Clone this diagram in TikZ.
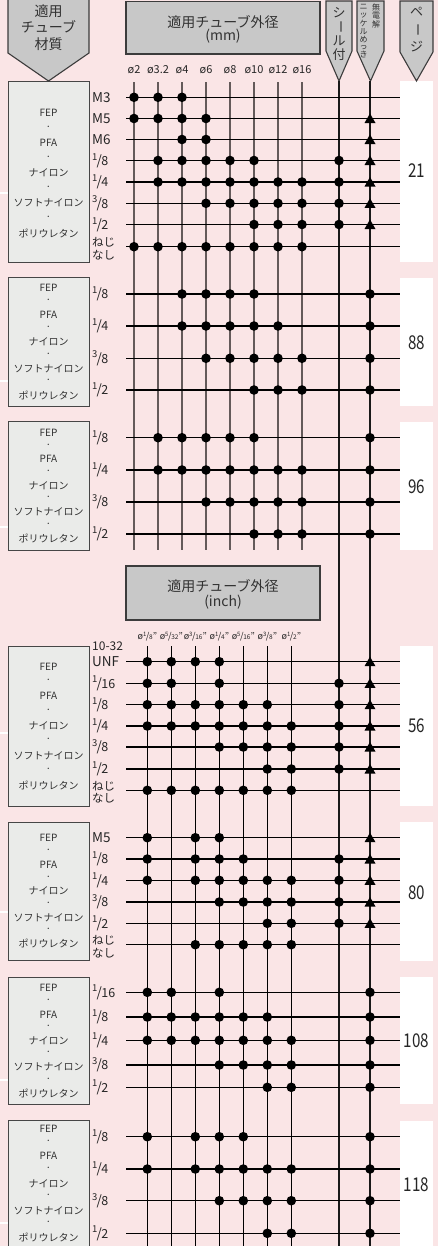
\documentclass[tikz,border=0pt]{standalone}
\usepackage{fontspec}
\usepackage{graphicx}
\setmainfont{Noto Sans CJK JP}
\definecolor{bgpink}{RGB}{250,229,230}
\definecolor{hdrfill}{RGB}{200,200,200}
\definecolor{hdrline}{RGB}{60,60,60}
\definecolor{matfill}{RGB}{234,235,233}
\definecolor{matline}{RGB}{70,70,70}
\definecolor{vgray}{RGB}{100,90,90}
\definecolor{txtgray}{RGB}{50,50,50}
\newcommand\fsz[1]{\fontsize{#1bp}{#1bp}\selectfont}
\newcommand\fr[2]{\raisebox{0.38em}{\fsz{9.5}#1}\kern-0.06em/\kern-0.04em{\fsz{12.5}#2}}
\newcommand\ifr[2]{ø\raisebox{0.35em}{\fsz{6}#1}\kern-0.05em/\kern-0.03em{\fsz{6.5}#2}"}
\tikzset{
  hl/.style={line width=1.4bp, black},
  mmv/.style={line width=1.3bp, draw=vgray},
  inv/.style={line width=1bp, black},
  hdr/.style={draw=hdrline, fill=hdrfill, line width=1.1bp},
  matb/.style={draw=matline, fill=matfill, line width=1bp},
  mtxt/.style={font=\fsz{10}, inner sep=0pt, text=txtgray},
  htxt/.style={font=\fsz{14}, inner sep=0pt, text=txtgray},
  vtxt/.style={font=\fsz{13}, inner sep=0pt, text=txtgray},
  ntxt/.style={font=\fsz{8}, inner sep=0pt, text=txtgray},
  lbl/.style={font=\fsz{13.5}, anchor=west, inner sep=0pt, text=black!85},
  dlbl/.style={font=\fsz{11}, inner sep=0pt, text=black!85},
  ilbl/.style={font=\fsz{9}, inner sep=0pt, text=black!85},
  pg/.style={font=\fsz{19}, inner sep=0pt, text=black!85},
}
% y, label, cols, seal, nickel(0 none,1 triangle,2 dot)
\newcommand\mmrow[5]{%
  \draw[hl] (126,#1) -- (400,#1);
  \foreach \c in {#3} {\fill ({134+24*(\c-1)},#1) circle (4.8bp);}
  \ifnum#4=1 \fill (339,#1) circle (4.8bp);\fi
  \ifcase#5 \or \fill (370,{#1-5}) -- (364.5,{#1+4.5}) -- (375.5,{#1+4.5}) -- cycle;\or \fill (370,#1) circle (4.8bp);\fi
  \node[lbl] at (92,#1) {#2};
}
\newcommand\inrow[5]{%
  \draw[hl] (126,#1) -- (400,#1);
  \foreach \c in {#3} {\fill ({147.3+24*(\c-1)},#1) circle (4.8bp);}
  \ifnum#4=1 \fill (339,#1) circle (4.8bp);\fi
  \ifcase#5 \or \fill (370,{#1-5}) -- (364.5,{#1+4.5}) -- (375.5,{#1+4.5}) -- cycle;\or \fill (370,#1) circle (4.8bp);\fi
  \node[lbl] at (92,#1) {#2};
}
% top, bottom, first text y, pitch
\newcommand\matbox[4]{%
  \filldraw[matb] (8,#1) rectangle (89,#2);
  \foreach \t [count=\k from 0] in {FEP,·,PFA,·,ナイロン,·,ソフトナイロン,·,ポリウレタン}
    {\node[mtxt] at (48.5,{#3+\k*#4/2}) {\t};}
}
\newcommand\nejinashi[1]{\node[lbl,font=\fsz{11.5},align=left] at (92,{#1+2}) {ねじ\\[1bp]なし};}
\begin{document}
\begin{tikzpicture}[x=1bp,y=-1bp]
\useasboundingbox (0,0) rectangle (438,1246);
\fill[bgpink] (0,0) rectangle (438,1246);
% left white strips
\foreach \yy in {193,381,527,733,912,1080,1223} {\fill[white] (0,{\yy-1}) rectangle (8,{\yy+1});}
% page white boxes
\foreach \a/\b in {81/262,277.7/406,421.7/550,646/806,822.3/960.7,977.3/1104,1120.7/1250}
  {\fill[white] (400,\a) rectangle (433,\b);}
% material boxes
\matbox{81}{262}{113}{30}
\matbox{277.7}{406}{288}{26.8}
\matbox{421.7}{550}{432.7}{26.4}
\matbox{646.5}{806}{666.7}{29.6}
\matbox{822.3}{960.7}{838.3}{26.4}
\matbox{977}{1104}{988.3}{26.2}
\matbox{1120.7}{1252}{1129.3}{27}
% headers
\filldraw[hdr] (8,-3) -- (89,-3) -- (89,53) -- (48.5,81) -- (8,53) -- cycle;
\node[htxt] (h1) at (48.5,11) {適用};
\node[htxt] (h2) at (48.5,26.5) {チューブ};
\node[htxt] (h3) at (48.5,44) {材質};
\filldraw[hdr] (126,1.5) rectangle (320,54);
\node[htxt] (mm1) at (223,21.7) {適用チューブ外径};
\node[htxt] (mm2) at (223,36) {(mm)};
\filldraw[hdr] (126,566) rectangle (320,620);
\node[htxt] (in1) at (223,585.7) {適用チューブ外径};
\node[htxt] (in2) at (223,602) {(inch)};
% seal header
\filldraw[hdr] (326,1) -- (352,1) -- (352,51) -- (339,81) -- (326,51) -- cycle;
\node[vtxt] at (339,12.5) {シ};
\node[vtxt] at (339,26.5) {\rotatebox[origin=c]{-90}{ー}};
\node[vtxt] at (339,40.5) {ル};
\node[vtxt] at (339,54.5) {付};
% nickel header
\filldraw[hdr] (357,1) -- (384,1) -- (384,51) -- (370.5,81) -- (357,51) -- cycle;
\foreach \ch/\yy in {無/7.5,電/16,解/24.5} {\node[ntxt] at (376,\yy) {\ch};}
\foreach \ch/\yy in {ニ/7,ッ/15,ケ/23.3,ル/31.6,め/40,っ/47.3,き/54.5} {\node[ntxt] at (363.5,\yy) {\ch};}
% page header
\filldraw[hdr] (400,1) -- (433,1) -- (433,52) -- (416.5,81) -- (400,52) -- cycle;
\node[vtxt] at (416.5,12) {ペ};
\node[vtxt] at (416.5,29.5) {\rotatebox[origin=c]{-90}{ー}};
\node[vtxt] at (416.5,46.5) {ジ};
% diameter labels mm
\foreach \t [count=\i] in {ø2,ø3.2,ø4,ø6,ø8,ø10,ø12,ø16}
  {\node[dlbl] at ({134+24*(\i-1)},70) {\t};}
% diameter labels inch
\node[ilbl] at (147.3,637) {\ifr{1}{8}};
\node[ilbl] at (171.3,637) {\ifr{5}{32}};
\node[ilbl] at (195.3,637) {\ifr{3}{16}};
\node[ilbl] at (219.3,637) {\ifr{1}{4}};
\node[ilbl] at (243.3,637) {\ifr{5}{16}};
\node[ilbl] at (267.3,637) {\ifr{3}{8}};
\node[ilbl] at (291.3,637) {\ifr{1}{2}};
% vertical lines
\foreach \i in {0,...,7} {\draw[mmv] ({134+24*\i},82) -- ({134+24*\i},550);}
\foreach \i in {0,...,6} {\draw[inv] ({147.3+24*\i},646) -- ({147.3+24*\i},1250);}
\draw[line width=1.2bp, black!90] (339,81) -- (339,1250);
\draw[line width=1.2bp, black!90] (370,81) -- (370,1250);
% block 1
\mmrow{97.3}{M3}{1,2,3}{0}{0}
\mmrow{118.5}{M5}{1,2,3,4}{0}{1}
\mmrow{139.5}{M6}{3,4}{0}{1}
\mmrow{160.5}{\fr18}{2,3,4,5,6}{1}{1}
\mmrow{182}{\fr14}{2,...,8}{1}{1}
\mmrow{203.3}{\fr38}{4,...,8}{1}{1}
\mmrow{224.5}{\fr12}{6,7,8}{1}{1}
\mmrow{246.7}{}{1,...,8}{0}{0}
\nejinashi{246.7}
% block 2
\mmrow{294}{\fr18}{3,4,5,6}{0}{2}
\mmrow{326}{\fr14}{3,...,7}{0}{2}
\mmrow{358.3}{\fr38}{4,...,8}{0}{2}
\mmrow{390}{\fr12}{6,7,8}{0}{2}
% block 3
\mmrow{437.7}{\fr18}{2,...,6}{0}{2}
\mmrow{470}{\fr14}{2,...,8}{0}{2}
\mmrow{502}{\fr38}{4,...,8}{0}{2}
\mmrow{534}{\fr12}{6,7,8}{0}{2}
% block 4
\inrow{661.7}{UNF}{1,2,3,4}{0}{1}
\node[lbl,font=\fsz{12}] at (92,646) {10-32};
\inrow{683.3}{\fr1{16}}{1,2,4}{1}{1}
\inrow{704.7}{\fr18}{1,...,6}{1}{1}
\inrow{726}{\fr14}{1,...,7}{1}{1}
\inrow{747}{\fr38}{4,...,7}{1}{1}
\inrow{769}{\fr12}{6,7}{1}{1}
\inrow{790.3}{}{1,...,7}{0}{0}
\nejinashi{790.3}
% block 5
\inrow{837.7}{M5}{1,3,4}{0}{1}
\inrow{859}{\fr18}{1,3,4,5}{1}{1}
\inrow{880.3}{\fr14}{1,3,4,5,6,7}{1}{1}
\inrow{902}{\fr38}{4,5,6,7}{1}{1}
\inrow{923.3}{\fr12}{6,7}{1}{1}
\inrow{944.7}{}{3,4,5,6,7}{0}{0}
\nejinashi{944.7}
% block 6
\inrow{992.3}{\fr1{16}}{1,2,4}{0}{2}
\inrow{1017}{\fr18}{1,...,6}{0}{2}
\inrow{1040.3}{\fr14}{1,...,7}{0}{2}
\inrow{1065}{\fr38}{4,...,7}{0}{2}
\inrow{1087.3}{\fr12}{6,7}{0}{2}
% block 7
\inrow{1136.7}{\fr18}{1,3,4,5}{0}{2}
\inrow{1169}{\fr14}{1,3,4,5,6,7}{0}{2}
\inrow{1200.7}{\fr38}{4,...,7}{0}{2}
\inrow{1233.3}{\fr12}{6,7}{0}{2}
% page numbers
\foreach \n/\yy in {21/170.5,88/343,96/486.7,56/725.3,80/892.3,108/1040.7,118/1185}
  {\node[pg] at (416.5,\yy) {\scalebox{0.8}[1]{\n}};}
\end{tikzpicture}
\end{document}
